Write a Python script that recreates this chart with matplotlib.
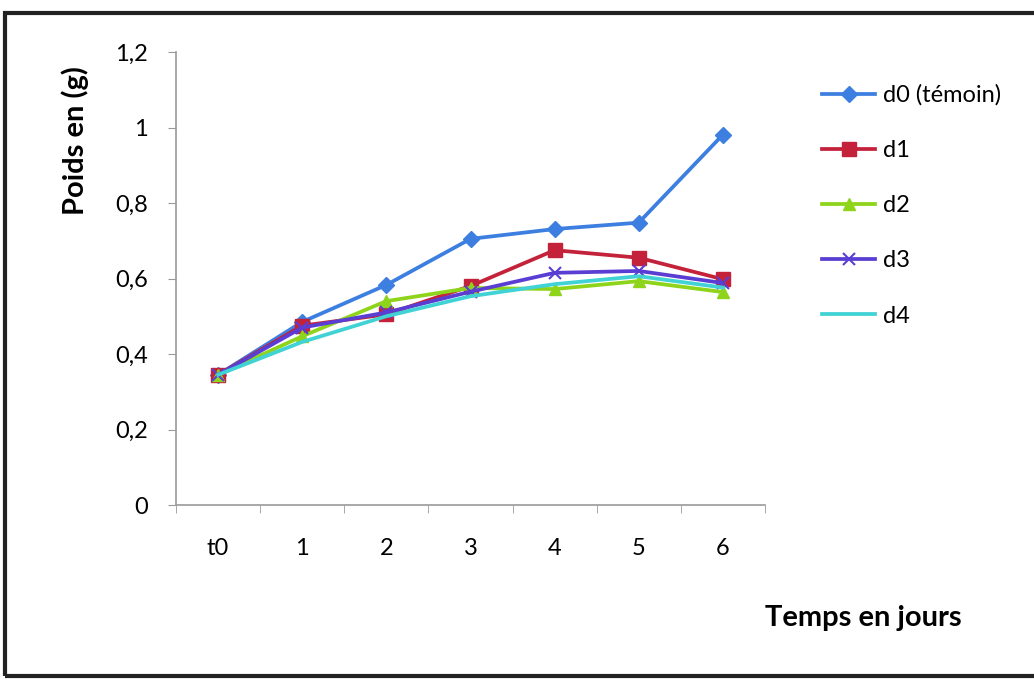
import matplotlib
matplotlib.use("Agg")
import matplotlib.pyplot as plt
from matplotlib.patches import Rectangle
from matplotlib.ticker import FixedLocator, FuncFormatter

# Categories (days) and weights in grams per dose
days = ["t0", "1", "2", "3", "4", "5", "6"]
d0 = [0.345, 0.485, 0.583, 0.705, 0.731, 0.748, 0.981]
d1 = [0.345, 0.475, 0.505, 0.580, 0.675, 0.655, 0.598]
d2 = [0.345, 0.447, 0.540, 0.575, 0.572, 0.593, 0.564]
d3 = [0.345, 0.470, 0.510, 0.565, 0.615, 0.620, 0.588]
d4 = [0.345, 0.432, 0.500, 0.553, 0.585, 0.606, 0.576]
series_names = ["d0 (témoin)", "d1", "d2", "d3", "d4"]

plt.rcParams["font.family"] = ["Lato", "DejaVu Sans"]

fig = plt.figure(figsize=(10.34, 6.8), dpi=100)
fig.patch.set_facecolor("white")

# Outer chart frame
fig.patches.append(Rectangle((5 / 1034, 4 / 680), 1.2, 663 / 680, transform=fig.transFigure,
                             fill=False, edgecolor="#222222", linewidth=3, zorder=10))

ax = fig.add_axes([176 / 1034, 1 - 505 / 680, (765 - 176) / 1034, (505 - 52) / 680])

x = list(range(len(days)))
styles = [
    dict(color="#3D7FE0", marker="D", markersize=8),
    dict(color="#C3223A", marker="s", markersize=10),
    dict(color="#8ED41A", marker="^", markersize=9),
    dict(color="#5A3ED4", marker="x", markersize=9, markeredgewidth=1.5),
    dict(color="#40D2D4", marker=None),
]
for vals, name, st in zip([d0, d1, d2, d3, d4], series_names, styles):
    ax.plot(x, vals, linewidth=2.7, label=name, **st)

ax.set_xlim(-0.5, len(days) - 0.5)
ax.set_ylim(0, 1.2)

for s in ["top", "right"]:
    ax.spines[s].set_visible(False)
for s in ["left", "bottom"]:
    ax.spines[s].set_color("#9a9a9a")
    ax.spines[s].set_linewidth(1.2)

ax.set_yticks([0, 0.2, 0.4, 0.6, 0.8, 1.0, 1.2])
ax.yaxis.set_major_formatter(FuncFormatter(lambda v, p: f"{v:g}".replace(".", ",")))
ax.tick_params(axis="y", length=6, color="#9a9a9a", labelsize=17, pad=14)

ax.set_xticks(x)
ax.set_xticklabels(days)
ax.xaxis.set_minor_locator(FixedLocator([i - 0.5 for i in range(len(days) + 1)]))
ax.tick_params(axis="x", which="major", length=0, labelsize=17, pad=24)
ax.tick_params(axis="x", which="minor", length=6, color="#9a9a9a")

fig.text(75 / 1034, 1 - 141 / 680, "Poids en (g)", rotation=90, ha="center", va="center",
         fontsize=21, fontweight="bold")
fig.text(863 / 1034, 1 - 618 / 680, "Temps en jours", ha="center", va="center",
         fontsize=21, fontweight="bold")

fig.legend(loc="upper left", bbox_to_anchor=(801 / 1034, 1 - 63 / 680), frameon=False,
           fontsize=17, handlelength=2.25, labelspacing=1.45, handletextpad=0.34)

fig.savefig("out.png", dpi=100, facecolor="white")
